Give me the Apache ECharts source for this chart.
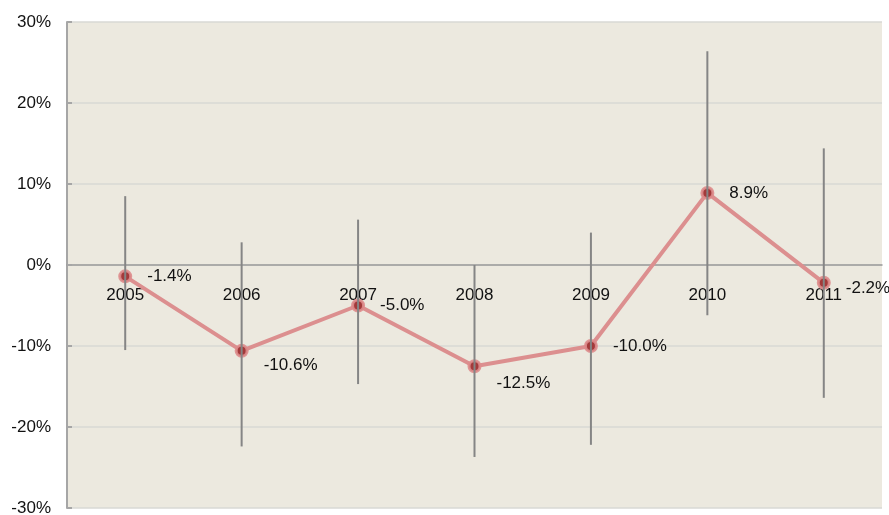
<!DOCTYPE html>
<html>
<head>
<meta charset="utf-8">
<script src="https://cdn.jsdelivr.net/npm/echarts@6/dist/echarts.min.js"></script>
<style>html,body{margin:0;padding:0;background:#fff;}#c{width:889px;height:515px;}</style>
</head>
<body>
<div id="c"></div>
<script>
const years = ['2005','2006','2007','2008','2009','2010','2011'];
const values = [-1.4, -10.6, -5.0, -12.5, -10.0, 8.9, -2.2];
const errHigh = [8.5, 2.8, 5.6, 0.0, 4.0, 26.4, 14.4];
const errLow = [-10.5, -22.4, -14.7, -23.7, -22.2, -6.2, -16.4];
const yTicks = { min: -30, max: 30, interval: 10 };

const labelShift = [0, 14, 0, 17, 0, 0, 5];

const chart = echarts.init(document.getElementById('c'), null, { renderer: 'canvas' });
const font = '"Liberation Sans", Arial, Helvetica, sans-serif';

const gridTop = 22, gridBottom = 7, H = 515;
const plotH = H - gridTop - gridBottom;
// move the category axis up to the zero line
const zeroOffset = -plotH * (0 - yTicks.min) / (yTicks.max - yTicks.min);

chart.setOption({
  animation: false,
  backgroundColor: '#ffffff',
  grid: { left: 67, right: 7, top: gridTop, bottom: gridBottom, show: true, backgroundColor: '#ece9df', borderWidth: 0, containLabel: false, outerBoundsMode: 'none' },
  xAxis: {
    type: 'category',
    data: years,
    boundaryGap: true,
    position: 'bottom',
    offset: zeroOffset,
    axisLine: { onZero: false, lineStyle: { color: '#9a9a9a', width: 1.5 } },
    axisTick: { inside: true, length: 4, lineStyle: { color: '#9a9a9a', width: 1.5 } },
    axisLabel: { margin: 22, fontSize: 17, color: '#111', fontFamily: font },
    splitLine: { show: false }
  },
  yAxis: {
    type: 'value',
    min: yTicks.min, max: yTicks.max, interval: yTicks.interval,
    axisLine: { show: true, onZero: false, lineStyle: { color: '#a6a6a6', width: 2 } },
    axisTick: { show: true, inside: true, length: 5, lineStyle: { color: '#a6a6a6', width: 2 } },
    axisLabel: { margin: 16, fontSize: 17, color: '#111', fontFamily: font, formatter: '{value}%' },
    splitLine: { show: true, lineStyle: { color: '#d9d8d4', width: 1.5 } }
  },
  series: [
    {
      type: 'line',
      data: values.map((v, i) => ({
        value: v,
        label: { offset: [0, labelShift[i]] }
      })),
      z: 3,
      lineStyle: { color: '#dc8f8f', width: 4 },
      symbol: 'circle',
      symbolSize: 11,
      itemStyle: { color: '#a33a3a', borderColor: 'rgba(222,140,140,0.9)', borderWidth: 3 },
      label: {
        show: true, position: 'right', distance: 15,
        fontSize: 17, color: '#111', fontFamily: font,
        formatter: p => p.value.toFixed(1) + '%'
      }
    },
    {
      type: 'custom',
      z: 5,
      data: years.map((y, i) => [i, errLow[i], errHigh[i]]),
      renderItem: function (params, api) {
        const lo = api.coord([api.value(0), api.value(1)]);
        const hi = api.coord([api.value(0), api.value(2)]);
        return {
          type: 'line',
          shape: { x1: lo[0], y1: lo[1], x2: hi[0], y2: hi[1] },
          style: { stroke: '#858585', lineWidth: 2 }
        };
      }
    }
  ]
});
</script>
</body>
</html>
